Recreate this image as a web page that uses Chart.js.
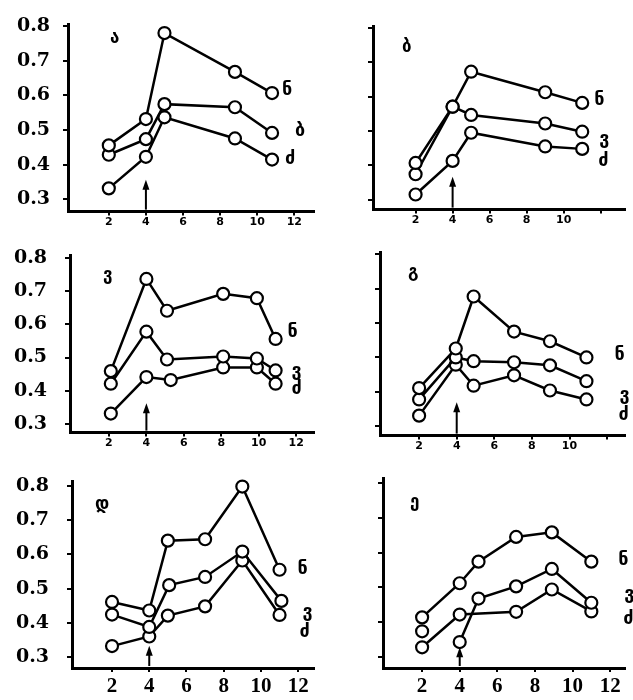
<!DOCTYPE html>
<html><head><meta charset="utf-8">
<script src="https://cdn.jsdelivr.net/npm/chart.js@4.4.1/dist/chart.umd.min.js"></script>
<style>
html,body{margin:0;padding:0;background:#fff;}
#wrap{position:relative;width:633px;height:700px;overflow:hidden;background:#fff;}
canvas{position:absolute;}
</style></head><body><div id="wrap"></div>
<script>
// ---- tick labels / names ----
const yTickValues = [0.3, 0.4, 0.5, 0.6, 0.7, 0.8];
const xTickValues = [2, 4, 6, 8, 10, 12];
const xLabelsFull = [2, 4, 6, 8, 10, 12];
const xLabelsShort = [2, 4, 6, 8, 10];
const panelTitles = ['ა', 'ბ', 'ვ', 'გ', 'დ', 'ე'];
const namesA = ['ნ', 'ბ', 'ძ'];
const namesB = ['ნ', 'ვ', 'ძ'];

// ---- panel 1 ----
const aX = [2, 4, 5, 8.8, 10.8];
const aN = [0.456, 0.532, 0.780, 0.668, 0.607];
const aV = [0.429, 0.474, 0.575, 0.566, 0.492];
const aD = [0.332, 0.423, 0.537, 0.476, 0.415];
// ---- panel 2 ----
const bX = [2, 4, 5, 9, 11];
const bN = [0.407, 0.571, 0.673, 0.613, 0.582];
const bV = [0.374, 0.571, 0.547, 0.522, 0.498];
const bD = [0.315, 0.413, 0.495, 0.455, 0.448];
// ---- panel 3 ----
const gX = [2.1, 4, 5.1, 8.1, 9.9, 10.9];
const gXd = [2.1, 4, 5.3, 8.1, 9.9, 10.9];
const gN = [0.459, 0.737, 0.641, 0.692, 0.679, 0.556];
const gV = [0.421, 0.578, 0.494, 0.503, 0.497, 0.461];
const gD = [0.331, 0.441, 0.432, 0.470, 0.470, 0.421];
// ---- panel 4 ----
const dX = [2, 3.95, 4.9, 7.05, 8.96, 10.9];
const dN = [0.411, 0.526, 0.677, 0.575, 0.547, 0.500];
const dV = [0.378, 0.500, 0.489, 0.486, 0.477, 0.431];
const dD = [0.331, 0.479, 0.418, 0.448, 0.404, 0.378];
// ---- panel 5 ----
const eX = [2, 4, 5, 7, 9, 11];
const eXv = [2, 4, 5.07, 7, 9, 11.1];
const eN = [0.461, 0.436, 0.640, 0.644, 0.798, 0.555];
const eV = [0.424, 0.388, 0.510, 0.534, 0.608, 0.464];
const eD = [0.332, 0.360, 0.421, 0.448, 0.582, 0.423];
// ---- panel 6 ----
const vX = [2, 4, 5, 7, 8.9, 11];
const vXd = [2, 4, 7, 8.9, 11];
const vN = [0.414, 0.512, 0.574, 0.645, 0.658, 0.574];
const vV = [0.374, 0.343, 0.468, 0.503, 0.553, 0.456];
const vD = [0.328, 0.422, 0.430, 0.494, 0.431];
// arrow tip values (at x = 4)
const arrowTips = [0.357, 0.367, 0.362, 0.37, 0.333, 0.328];

// ---- build panels ----
const panels = [
  {title: panelTitles[0], names: namesA, series: [[aX, aN], [aX, aV], [aX, aD]], xLabels: xLabelsFull, yLabels: true, arrow: arrowTips[0], hidden: []},
  {title: panelTitles[1], names: namesB, series: [[bX, bN], [bX, bV], [bX, bD]], xLabels: xLabelsShort, yLabels: false, arrow: arrowTips[1], hidden: []},
  {title: panelTitles[2], names: namesB, series: [[gX, gN], [gX, gV], [gXd, gD]], xLabels: xLabelsFull, yLabels: true, arrow: arrowTips[2], hidden: []},
  {title: panelTitles[3], names: namesB, series: [[dX, dN], [dX, dV], [dX, dD]], xLabels: xLabelsShort, yLabels: false, arrow: arrowTips[3], hidden: []},
  {title: panelTitles[4], names: namesB, series: [[eX, eN], [eXv, eV], [eX, eD]], xLabels: xLabelsFull, yLabels: true, arrow: arrowTips[4], hidden: []},
  {title: panelTitles[5], names: namesB, series: [[vX, vN], [vX, vV], [vXd, vD]], xLabels: xLabelsFull, yLabels: false, arrow: arrowTips[5], hidden: [[1, 0]]}
];

// ---- layout (positions / styles) ----
const layouts = [
  {left:0, top:0, w:322, h:236, wY:68, hX:22, pt:14, pr:2, xmin:-0.2, xmax:13.05, ymin:0.265, ymax:0.805, yPad:13, xFont:'bold 11px "DejaVu Sans"', xPad:0, title:[42,14], lab:[[10,-3],[23,-2],[13,0]]},
  {left:322, top:0, w:311, h:236, wY:51, hX:23, pt:12, pr:3, xmin:-0.3, xmax:13.3, ymin:0.271, ymax:0.805, yPad:15, xFont:'bold 11px "DejaVu Sans"', xPad:0, title:[29,21], lab:[[12,-3],[17,8],[16,12]]},
  {left:0, top:226, w:322, h:236, wY:70, hX:22, pt:12, pr:2, xmin:-0.08, xmax:12.94, ymin:0.2735, ymax:0.808, yPad:18, xFont:'bold 11px "DejaVu Sans"', xPad:0, title:[33,20], lab:[[12,-7],[16,1],[16,6]]},
  {left:322, top:226, w:311, h:236, wY:58, hX:24, pt:12, pr:3, xmin:-0.08, xmax:12.94, ymin:0.273, ymax:0.805, yPad:15, xFont:'bold 11px "DejaVu Sans"', xPad:0, title:[28,20], lab:[[28,-2],[33,14],[32,16]]},
  {left:0, top:452, w:322, h:248, wY:72, hX:32, pt:10, pr:2, xmin:-0.15, xmax:12.84, ymin:0.268, ymax:0.813, yPad:18, xFont:'bold 21px "Liberation Serif"', xPad:2, title:[23,23], lab:[[18,0],[21,11],[20,17]]},
  {left:322, top:452, w:311, h:248, wY:61, hX:32, pt:8, pr:3, xmin:-0.08, xmax:12.78, ymin:0.2686, ymax:0.813, yPad:15, xFont:'bold 21px "Liberation Serif"', xPad:2, title:[27,24], lab:[[27,-1],[33,-8],[32,8]]}
];

function parseFont(s){
  const m = s.match(/^(bold)?\s*(\d+)px\s+(.*)$/);
  return {weight: m[1] ? 'bold' : 'normal', size: +m[2], family: m[3].replace(/"/g,'')};
}

const decor = {
  id: 'decor',
  afterDatasetsDraw(chart) {
    const p = chart.options.plugins.decor;
    const {ctx, chartArea} = chart;
    const xs = chart.scales.x, ys = chart.scales.y;
    ctx.save();
    ctx.strokeStyle = '#000'; ctx.fillStyle = '#000'; ctx.lineWidth = 2;
    // arrow at x = 4
    const ax = xs.getPixelForValue(4);
    const tip = ys.getPixelForValue(p.arrow);
    ctx.beginPath(); ctx.moveTo(ax, chartArea.bottom - 2); ctx.lineTo(ax, tip + 6); ctx.stroke();
    ctx.beginPath(); ctx.moveTo(ax, tip); ctx.lineTo(ax - 3.5, tip + 10); ctx.lineTo(ax + 3.5, tip + 10); ctx.closePath(); ctx.fill();
    // panel title
    ctx.font = 'bold 17px "DejaVu Sans"';
    ctx.textAlign = 'left'; ctx.textBaseline = 'middle';
    ctx.fillText(p.title, chartArea.left + p.titlePos[0], chartArea.top + p.titlePos[1]);
    // series end labels
    ctx.font = 'bold 18px "DejaVu Sans"';
    chart.data.datasets.forEach((ds, i) => {
      const meta = chart.getDatasetMeta(i);
      const last = meta.data[meta.data.length - 1];
      ctx.fillText(ds.label, last.x + p.lab[i][0], last.y + p.lab[i][1]);
    });
    ctx.restore();
  }
};

const wrap = document.getElementById('wrap');
panels.forEach((pn, k) => {
  const L = layouts[k];
  const cv = document.createElement('canvas');
  cv.width = L.w; cv.height = L.h;
  cv.style.left = L.left + 'px'; cv.style.top = L.top + 'px';
  cv.style.width = L.w + 'px'; cv.style.height = L.h + 'px';
  wrap.appendChild(cv);
  const datasets = pn.series.map((s, i) => ({
    label: pn.names[i],
    data: s[0].map((x, j) => ({x: x, y: s[1][j]})),
    borderColor: '#000', borderWidth: 2.5,
    pointRadius: 6, pointBorderWidth: 2.2, pointBackgroundColor: '#fff', pointBorderColor: '#000',
    tension: 0, clip: false,
    segment: {
      borderColor: ctx => pn.hidden.some(h => h[0] === i && h[1] === ctx.p0DataIndex) ? 'rgba(0,0,0,0)' : '#000'
    }
  }));
  new Chart(cv, {
    type: 'line',
    data: {datasets: datasets},
    plugins: [decor],
    options: {
      responsive: false, animation: false, devicePixelRatio: 1,
      layout: {padding: {top: L.pt, right: L.pr, left: 0, bottom: 0}},
      plugins: {
        legend: {display: false}, tooltip: {enabled: false},
        decor: {arrow: pn.arrow, title: pn.title, titlePos: L.title, lab: L.lab}
      },
      scales: {
        x: {
          type: 'linear', min: L.xmin, max: L.xmax,
          afterBuildTicks: s => { s.ticks = xTickValues.map(v => ({value: v})); },
          afterFit: s => { s.height = L.hX; },
          grid: {drawOnChartArea: false, drawTicks: true, tickLength: 4, color: '#000', lineWidth: 2},
          border: {display: true, color: '#000', width: 3},
          ticks: {color: '#000', font: parseFont(L.xFont), padding: L.xPad, maxRotation: 0, autoSkip: false,
                  callback: v => pn.xLabels.includes(v) ? String(v) : ''}
        },
        y: {
          type: 'linear', min: L.ymin, max: L.ymax,
          afterBuildTicks: s => { s.ticks = yTickValues.map(v => ({value: v})); },
          afterFit: s => { s.width = L.wY; },
          grid: {drawOnChartArea: false, drawTicks: true, tickLength: 5, color: '#000', lineWidth: 2},
          border: {display: true, color: '#000', width: 3},
          ticks: {color: '#000', font: {family: 'DejaVu Serif', weight: 'bold', size: 19}, padding: L.yPad,
                  callback: v => pn.yLabels ? v.toFixed(1) : ''}
        }
      }
    }
  });
});
</script>
</body></html>
